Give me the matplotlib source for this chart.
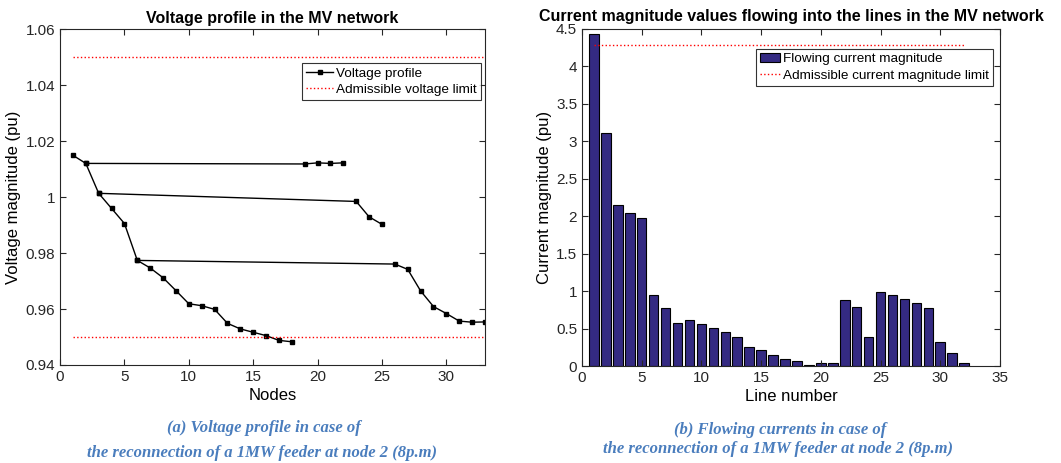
import matplotlib
matplotlib.use("Agg")
import matplotlib.pyplot as plt

plt.rcParams['font.family'] = ['Liberation Sans', 'DejaVu Sans']

# voltage profile (pu) for nodes 1..33
nodes = list(range(1, 34))
voltage = [1.0150, 1.0121, 1.0014, 0.9960, 0.9906, 0.9774, 0.9747, 0.9712, 0.9666,
           0.9619, 0.9612, 0.9599, 0.9549, 0.9529, 0.9517, 0.9505, 0.9488, 0.9483,
           1.0119, 1.0123, 1.0121, 1.0123,
           0.9985, 0.9930, 0.9903,
           0.9761, 0.9742, 0.9665, 0.9609, 0.9584, 0.9557, 0.9553, 0.9554]
# feeder branches, as node numbers
branches = [list(range(1, 19)), [2, 19, 20, 21, 22], [3, 23, 24, 25], [6] + list(range(26, 34))]
v_limits = [0.95, 1.05]

# current magnitude (pu) for lines 1..32
lines = list(range(1, 33))
current = [4.43, 3.11, 2.15, 2.04, 1.98, 0.95, 0.77, 0.575, 0.61, 0.557, 0.508, 0.45,
           0.388, 0.258, 0.209, 0.147, 0.089, 0.067, 0.013, 0.04, 0.04, 0.882, 0.793,
           0.388, 0.994, 0.945, 0.891, 0.847, 0.771, 0.325, 0.174, 0.036]
i_limit = 4.287

fig = plt.figure(figsize=(10.61, 4.63), dpi=100)
ax1 = fig.add_axes([0.0566, 0.2117, 0.4005, 0.7246])
ax2 = fig.add_axes([0.5485, 0.2095, 0.394, 0.7279])

# left: voltage profile
for k, br in enumerate(branches):
    ax1.plot(br, [voltage[n - 1] for n in br], '-s', color='black', linewidth=1.0,
             markersize=2.5, label='Voltage profile' if k == 0 else None)
for k, v in enumerate(v_limits):
    ax1.plot([1, 33], [v, v], ':', color='red', linewidth=1.0,
             label='Admissible voltage limit' if k == 0 else None)
ax1.set_xlim(0, 33)
ax1.set_ylim(0.94, 1.06)
ax1.set_xticks([0, 5, 10, 15, 20, 25, 30])
ax1.set_yticks([0.94, 0.96, 0.98, 1.0, 1.02, 1.04, 1.06])
ax1.set_yticklabels(['0.94', '0.96', '0.98', '1', '1.02', '1.04', '1.06'])
ax1.set_title('Voltage profile in the MV network', fontsize=11.5, fontweight='bold', pad=5)
ax1.set_xlabel('Nodes', fontsize=12, labelpad=3)
ax1.set_ylabel('Voltage magnitude (pu)', fontsize=12, labelpad=3)
leg1 = ax1.legend(loc='upper right', bbox_to_anchor=(0.99, 0.90), borderaxespad=0,
                  fancybox=False, edgecolor='black', fontsize=9.7, handlelength=2.0,
                  handletextpad=0.2, borderpad=0.3, labelspacing=0.3, numpoints=1)
leg1.get_frame().set_linewidth(0.8)

# right: line currents
bars = ax2.bar(lines, current, width=0.8, color='#342a82', edgecolor='black', linewidth=0.8,
               label='Flowing current magnitude')
lim_line, = ax2.plot([1, 32], [i_limit, i_limit], ':', color='red', linewidth=1.0,
                     label='Admissible current magnitude limit')
ax2.set_xlim(0, 35)
ax2.set_ylim(0, 4.5)
ax2.set_xticks([0, 5, 10, 15, 20, 25, 30, 35])
ax2.set_yticks([0, 0.5, 1, 1.5, 2, 2.5, 3, 3.5, 4, 4.5])
ax2.set_yticklabels(['0', '0.5', '1', '1.5', '2', '2.5', '3', '3.5', '4', '4.5'])
ax2.set_title('Current magnitude values flowing into the lines in the MV network',
              fontsize=11.5, fontweight='bold', pad=6)
ax2.set_xlabel('Line number', fontsize=12, labelpad=3)
ax2.set_ylabel('Current magnitude (pu)', fontsize=12, labelpad=3)
leg2 = ax2.legend([bars, lim_line], [bars.get_label(), lim_line.get_label()],
                  loc='upper right', bbox_to_anchor=(0.983, 0.941), borderaxespad=0,
                  fancybox=False, edgecolor='black', fontsize=9.7, handlelength=1.5,
                  handletextpad=0.2, borderpad=0.3, labelspacing=0.3)
leg2.get_frame().set_linewidth(0.8)

for ax in (ax1, ax2):
    ax.tick_params(direction='in', top=True, right=True, labelsize=11, length=4,
                   colors='#262626')
    for s in ax.spines.values():
        s.set_color('#262626')
        s.set_linewidth(0.8)

cap = dict(ha='center', va='center', fontsize=12, fontweight='bold', style='italic',
           color='#4a7dbd', family=['Liberation Serif', 'DejaVu Serif'])
fig.text(0.249, 1 - 428 / 463, '(a) Voltage profile in case of', **cap)
fig.text(0.247, 1 - 453 / 463, 'the reconnection of a 1MW feeder at node 2 (8p.m)', **cap)
fig.text(0.735, 1 - 430 / 463, '(b) Flowing currents in case of', **cap)
fig.text(0.733, 1 - 449 / 463, 'the reconnection of a 1MW feeder at node 2 (8p.m)', **cap)

fig.savefig('out.png', dpi=100)
